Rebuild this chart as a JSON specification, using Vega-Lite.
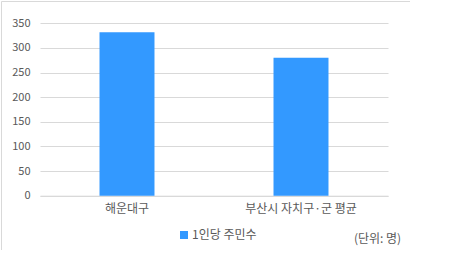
{
  "$schema": "https://vega.github.io/schema/vega-lite/v6.json",
  "width": 409,
  "height": 249,
  "autosize": {"type": "none"},
  "padding": {"left": 1, "top": 1, "right": 0, "bottom": 0},
  "background": "white",
  "config": {
    "view": {"stroke": "#d9d9d9", "strokeWidth": 1},
    "font": "Noto Sans CJK KR"
  },
  "data": {
    "values": [
      {"region": "해운대구", "series": "1인당 주민수", "value": 332},
      {"region": "부산시 자치구·군 평균", "series": "1인당 주민수", "value": 280}
    ]
  },
  "mark": {"type": "bar", "color": "#3399ff"},
  "encoding": {
    "x": {
      "field": "region",
      "type": "nominal",
      "sort": null,
      "scale": {"range": [39, 387], "paddingInner": 0.684, "paddingOuter": 0.342},
      "axis": {
        "title": "(단위: 명)",
        "titleX": 376,
        "titleY": 43,
        "titleAlign": "center",
        "titleBaseline": "middle",
        "titleFontSize": 12,
        "titleFontWeight": "normal",
        "titleColor": "#595959",
        "titleFont": "Noto Sans CJK KR",
        "labelAngle": 0,
        "labelFontSize": 12,
        "labelColor": "#595959",
        "labelPadding": 8,
        "ticks": false,
        "domainColor": "#d9d9d9",
        "offset": -54.3,
        "grid": false
      }
    },
    "y": {
      "field": "value",
      "type": "quantitative",
      "scale": {"domain": [0, 350], "range": [194.7, 22.3], "nice": false},
      "axis": {
        "title": null,
        "values": [0, 50, 100, 150, 200, 250, 300, 350],
        "labelFontSize": 11,
        "labelColor": "#595959",
        "labelPadding": 10,
        "ticks": false,
        "domain": false,
        "gridColor": "#d9d9d9",
        "offset": -39
      }
    },
    "color": {
      "field": "series",
      "type": "nominal",
      "scale": {"range": ["#3399ff"]},
      "legend": {
        "title": null,
        "orient": "none",
        "legendX": 177,
        "legendY": 228,
        "symbolType": "square",
        "symbolSize": 64,
        "labelFontSize": 12,
        "labelColor": "#595959",
        "labelOffset": 2
      }
    }
  }
}
